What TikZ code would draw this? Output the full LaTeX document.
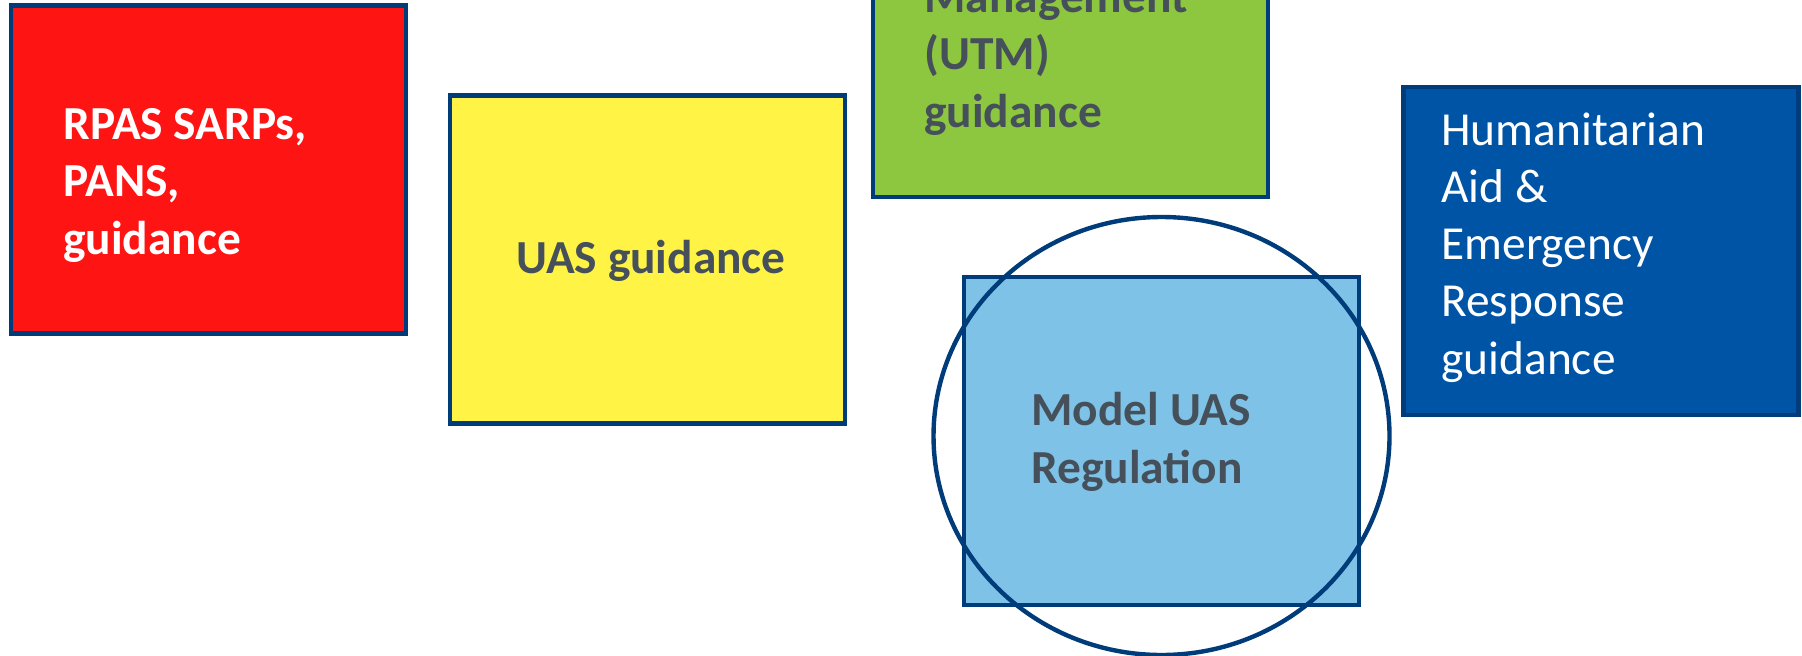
\documentclass[tikz,border=0pt]{standalone}
\usepackage{fontspec}
\setmainfont{Carlito}
\usetikzlibrary{positioning,shapes.geometric}

\definecolor{rpasred}{HTML}{FF1414}
\definecolor{uasyellow}{HTML}{FFF445}
\definecolor{utmgreen}{HTML}{8DC63F}
\definecolor{modelblue}{HTML}{7EC3E7}
\definecolor{aidblue}{HTML}{0054A6}
\definecolor{edgeblue}{HTML}{003C7A}
\definecolor{txtgray}{HTML}{46505B}

\begin{document}
\begin{tikzpicture}[x=0.5pt,y=0.5pt,
box/.style={rectangle, draw=edgeblue, line width=2.2pt, minimum width=197.5pt,
        minimum height=164pt, inner sep=0pt},
lbl/.style={align=left, anchor=base west, inner sep=0pt, text=txtgray,
        font=\fontsize{23.7}{28.6}\selectfont\bfseries},
light/.style={text=white, font=\fontsize{23.7}{28.6}\selectfont}
]
  \clip (0,0) rectangle (1802,655);
  % boxes
  \node[box, fill=rpasred] (rpas) at (208.75,485.6) {};
  \node[box, fill=uasyellow] (uas) at (647.25,395.5) {};
  \node[box, fill=utmgreen] (utm) at (1070.5,622) {};
  \node[box, fill=modelblue] (model) at (1161.5,214) {};
  \node[box, fill=aidblue] (haer) at (1601,404) {};
  \node[ellipse, draw=edgeblue, line width=2.2pt, minimum width=228pt,
        minimum height=219pt, inner sep=0pt] (ring) at (1161.5,219) {};
  % texts (base = last line)
  \node[lbl, text=white] (rpas-txt) at (63,401) {RPAS SARPs,\\PANS,\\guidance};
  \node[lbl, anchor=base] (uas-txt) at (651,382) {UAS guidance};
  \node[lbl] (utm-txt) at (924,528) {Management\\(UTM)\\guidance};
  \node[lbl] (model-txt) at (1031,172) {Model UAS\\Regulation};
  \node[lbl, light] (haer-txt) at (1441,281) {Humanitarian\\Aid \&\\Emergency\\Response\\guidance};
\end{tikzpicture}
\end{document}
